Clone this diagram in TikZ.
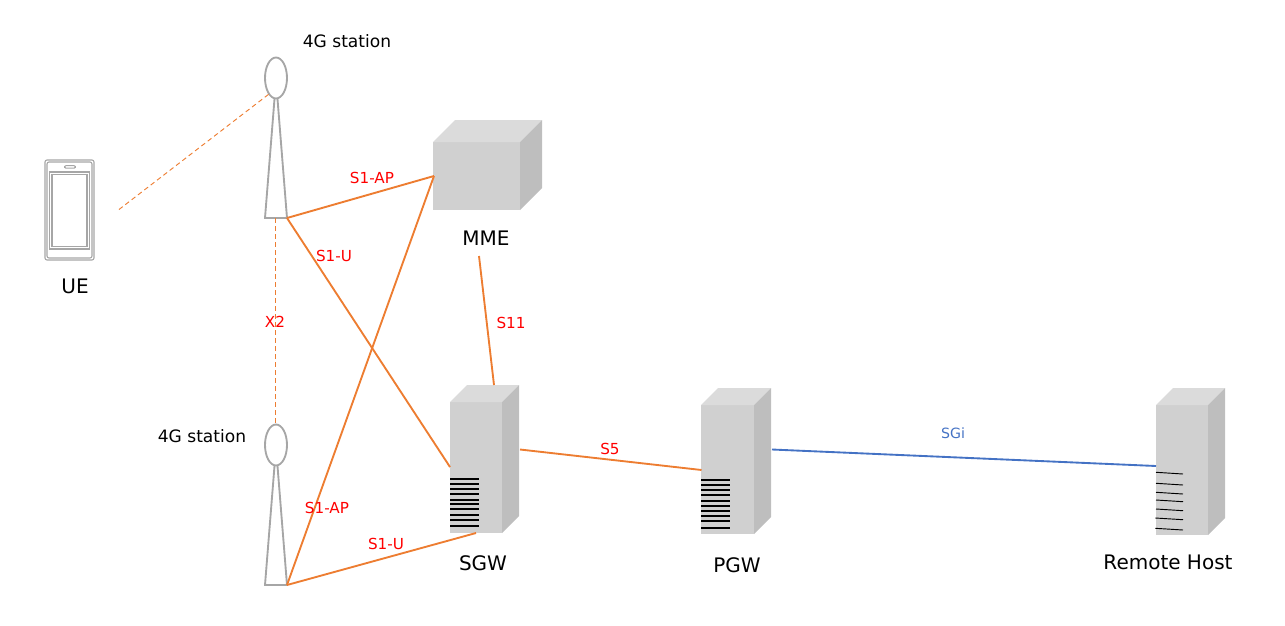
\documentclass[tikz,border=0pt]{standalone}
\usepackage{fontspec}
\setmainfont{DejaVu Sans}
\definecolor{linkor}{HTML}{ED7D31}
\definecolor{linkbl}{HTML}{4472C4}
\definecolor{towergr}{HTML}{A6A6A6}
\definecolor{boxfront}{HTML}{D0D0D0}
\definecolor{boxtop}{HTML}{DBDBDB}
\definecolor{boxside}{HTML}{BEBEBE}
\tikzset{
  oline/.style={draw=linkor, line width=1.4pt},
  dline/.style={draw=linkor, line width=0.7pt, dash pattern=on 3.5pt off 2.5pt},
  bline/.style={draw=linkbl, line width=1.4pt},
  tline/.style={draw=towergr, line width=1.4pt},
  stlabel/.style={inner sep=0pt, font=\fontsize{12.8}{15}\selectfont},
  rlabel/.style={inner sep=0pt, text=red, font=\fontsize{11.4}{14}\selectfont},
  nelabel/.style={inner sep=0pt, font=\fontsize{15}{18}\selectfont}
}
% box: left, top, width, height, depth (pixels)
\newcommand{\boxthing}[5]{%
  \fill[boxfront] (#1,#2) rectangle ++(#3,#4);
  \fill[boxtop] (#1,#2) -- ++(#5,-#5) -- ++(#3,0) -- ++(-#5,#5) -- cycle;
  \fill[boxside] (#1+#3,#2) -- ++(#5,-#5) -- ++(0,#4) -- ++(-#5,#5) -- cycle;
}
% tower: axis x, base y
\newcommand{\towerthing}[2]{%
  \draw[tline] (#1,#2-140) ellipse (11 and 20.5);
  \draw[tline] (#1-1.5,#2-119) -- (#1-11,#2) -- (#1+11,#2) -- (#1+1.5,#2-119);
}
\begin{document}
\begin{tikzpicture}[x=0.75pt, y=-0.75pt]
\useasboundingbox (0,0) rectangle (1285,625);
\towerthing{276}{218}
\towerthing{276}{585}
\boxthing{433}{142}{87}{68}{22}
\boxthing{450}{402}{52}{131}{17}
\boxthing{701}{405}{53}{129}{17}
\boxthing{1156}{405}{52}{130}{17}
% phone
\draw[towergr, line width=0.8pt, rounded corners=1.5pt] (45,160) rectangle (94,260);
\draw[towergr, line width=0.8pt, rounded corners=1.5pt] (47,162) rectangle (92,258);
\draw[towergr, line width=0.8pt] (49.5,172) rectangle (89.5,249);
\draw[towergr, line width=0.8pt] (52,174.5) rectangle (87,246.5);
\draw[towergr, line width=0.7pt, rounded corners=1pt] (64.5,165.7) rectangle (75.5,168.2);
% vents
\foreach \yy in {479,484,489,494,500,504,509,515,520,526}
  \draw[black, line width=1.3pt] (450,\yy) -- ++(29,0);
\foreach \yy in {480,485,490,495,501,506,511,516,521,528}
  \draw[black, line width=1.3pt] (701,\yy) -- ++(29,0);
\foreach \ya/\xa in {472.3/1156,483.3/1156,492.3/1156,500/1156,509/1156,518/1155.3,528.3/1155.3}
  \draw[black, line width=0.7pt] (\xa,\ya) -- (1183,\ya+1.7);
% connector ends
\coordinate (ueend) at (119,209.5);
\coordinate (antup) at (269,94);
\coordinate (footup) at (287,218);
\coordinate (footdn) at (287,585);
\coordinate (baseup) at (275.5,218);
\coordinate (topdn) at (275.5,424);
\coordinate (mmeleft) at (434,176);
\coordinate (mmebot) at (479,256);
\coordinate (sgwtop) at (494,385);
\coordinate (sgwleft) at (450,467);
\coordinate (sgwbot) at (476,533);
\coordinate (sgwright) at (520,449.5);
\coordinate (pgwleft) at (701.5,470);
\coordinate (pgwright) at (772,449.5);
\coordinate (hostleft) at (1156,466);
% links
\draw[dline] (ueend) -- (antup);
\draw[dline] (baseup) -- (topdn);
\draw[oline] (footup) -- (mmeleft);
\draw[oline] (footup) -- (sgwleft);
\draw[oline] (footdn) -- (mmeleft);
\draw[oline] (footdn) -- (sgwbot);
\draw[oline] (mmebot) -- (sgwtop);
\draw[oline] (sgwright) -- (pgwleft);
\draw[bline] (pgwright) -- (hostleft);
% labels
\node[stlabel] (staup) at (347,41) {4G station};
\node[stlabel] (stadn) at (202,436) {4G station};
\node[nelabel] (ue) at (75,286) {UE};
\node[nelabel] (mme) at (486,238.5) {MME};
\node[nelabel] (sgw) at (483,563) {SGW};
\node[nelabel] (pgw) at (737,565.5) {PGW};
\node[nelabel] (host) at (1168,562) {Remote Host};
\node[rlabel] (apup) at (372,178) {S1-AP};
\node[rlabel] (uup) at (334,256) {S1-U};
\node[rlabel] (xtwo) at (275,321.5) {X2};
\node[rlabel] (seleven) at (511,323) {S11};
\node[rlabel] (sfive) at (610,448.5) {S5};
\node[rlabel] (apdn) at (327,507.5) {S1-AP};
\node[rlabel] (udn) at (386,543.5) {S1-U};
\node[rlabel, text=linkbl, font=\fontsize{10.6}{13}\selectfont] (sgi) at (953,433.5) {SGi};
\end{tikzpicture}
\end{document}
